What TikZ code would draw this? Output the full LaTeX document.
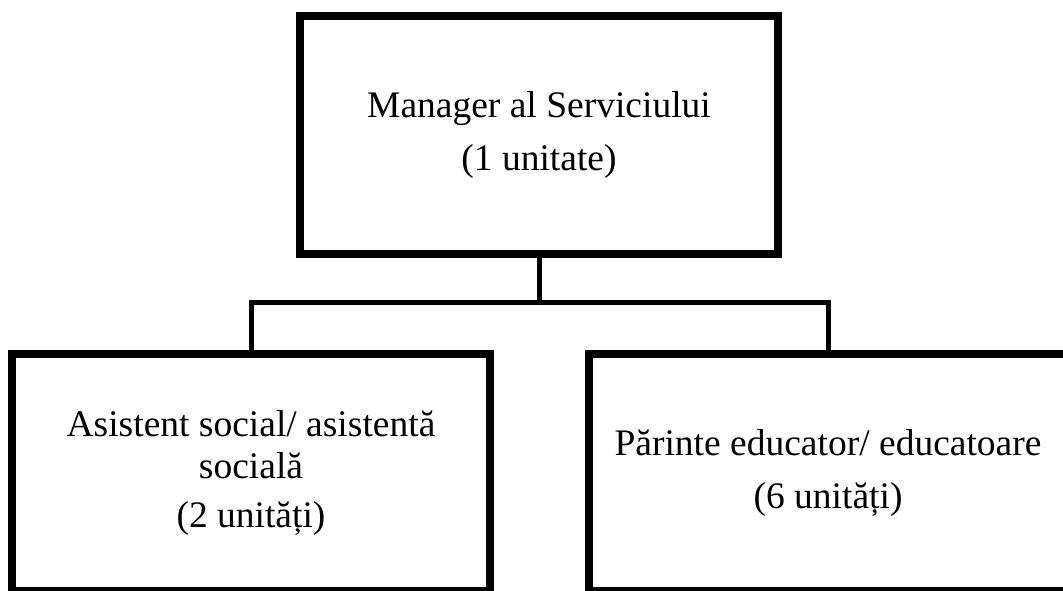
\documentclass[tikz,border=0pt]{standalone}
\usepackage{fontspec}
\setmainfont{Liberation Serif}
\usetikzlibrary{positioning}
\tikzset{every picture/.style={line width=2.5pt}}

\begin{document}
\begin{tikzpicture}[x=0.5pt,y=0.5pt,yscale=-1,xscale=1,every node/.style={unit}]

     \tikzstyle{unit} = [draw = black,
						fill = white,
						line width = 3.9pt,
						minimum width = 239pt,
						minimum height = 119pt,
						inner sep = 0pt,
						align = center,
						font = \fontsize{18.75}{20.5}\selectfont
						]
     \tikzstyle{link} = [line width=2.5pt]

\useasboundingbox (0,0) rectangle (1063,590);

\node [] (manager) at (539,135) {Manager al Serviciului\\[6pt] (1 unitate)};
\node [on grid, below left = 168.75pt and 144pt of manager, minimum height=118.5pt] (asistent) {Asistent social/ asistentă\\[0.5pt] socială\\[4pt] (2 unități)};
\node [on grid, below right = 168.75pt and 144.5pt of manager, minimum height=118.5pt] (parinte) {Părinte educator/ educatoare\\[6pt] (6 unități)};
\coordinate (bar) at (539,302);
\draw[link] (manager) -- (bar);
\draw[link] (asistent) |- (bar) -| (parinte);

\end{tikzpicture}
\end{document}
